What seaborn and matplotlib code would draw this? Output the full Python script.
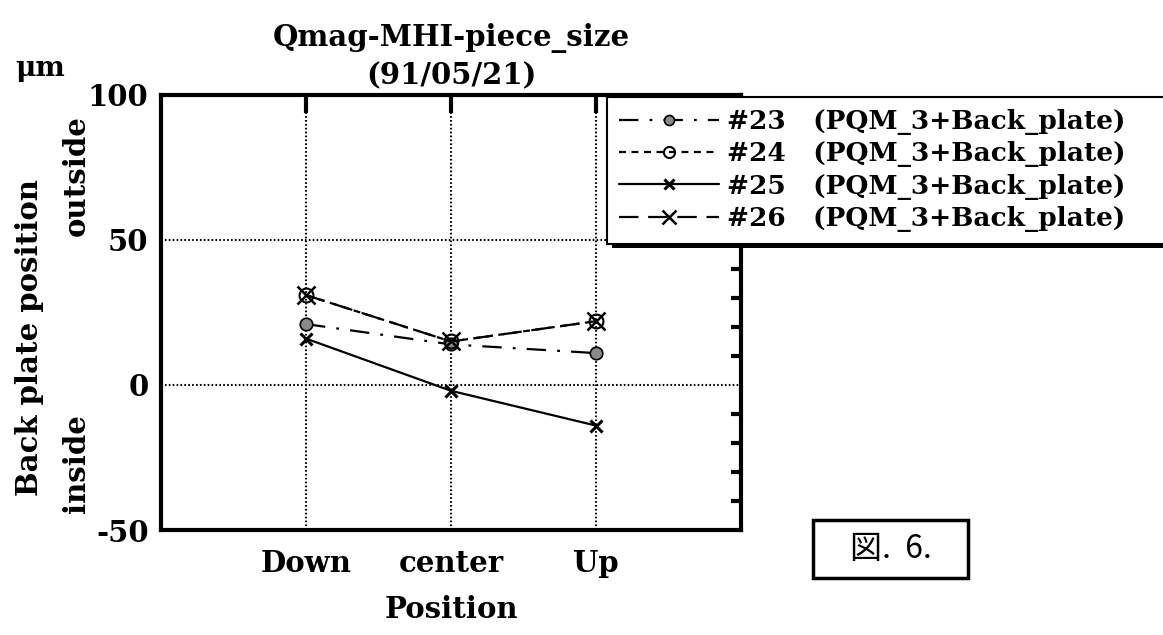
import numpy as np
import pandas as pd
import matplotlib
matplotlib.use("Agg")
import matplotlib.pyplot as plt
import seaborn as sns
from matplotlib.ticker import MultipleLocator
from matplotlib.patches import Rectangle

# ---- data ----
positions = ["Down", "center", "Up"]
x_pos = [1, 2, 3]
s23 = [21, 14, 11]
s24 = [31, 15, 22]
s25 = [16, -2, -14]
s26 = [31, 15, 22]
labels = ["#23   (PQM_3+Back_plate)", "#24   (PQM_3+Back_plate)",
          "#25   (PQM_3+Back_plate)", "#26   (PQM_3+Back_plate)"]
y_ticks = [-50, 0, 50, 100]

sns.set_theme(style="white")
plt.rcParams["font.family"] = ["DejaVu Serif"]
plt.rcParams["font.weight"] = "bold"
plt.rcParams["axes.unicode_minus"] = False
plt.rcParams["lines.scale_dashes"] = False
for k in ["text.color", "axes.labelcolor", "xtick.color", "ytick.color", "axes.edgecolor"]:
    plt.rcParams[k] = "black"

fig = plt.figure(figsize=(11.63, 6.35), dpi=100)
ax = fig.add_axes([161/1163, 1-530/635, (741-161)/1163, (530-95)/635])

styles = [
    dict(linestyle=(0, (14, 8, 2, 8)), marker="o", markersize=9, markerfacecolor="#8a8a8a",
         markeredgecolor="black", markeredgewidth=1.2),
    dict(linestyle=(0, (5, 4)), marker="o", markersize=10, markerfacecolor="none",
         markeredgecolor="black", markeredgewidth=1.5),
    dict(linestyle="-", marker="x", markersize=9, markeredgecolor="black", markeredgewidth=2.2),
    dict(linestyle=(0, (14, 7)), marker="x", markersize=13, markeredgecolor="black",
         markeredgewidth=1.8),
]
series = [s23, s24, s25, s26]
for vals, lab, st in zip(series, labels, styles):
    sns.lineplot(x=x_pos, y=vals, ax=ax, color="black", linewidth=1.6, label=lab, **st)

ax.set_xlim(0, 4)
ax.set_ylim(-50, 100)
ax.set_xticks(x_pos)
ax.set_xticklabels(positions)
ax.set_yticks(y_ticks)
ax.yaxis.set_minor_locator(MultipleLocator(10))
ax.grid(True, which="major", color="black", linestyle=(0, (1.2, 1.6)), linewidth=1.5)
ax.tick_params(axis="both", which="both", direction="in", top=True, right=True,
               colors="black", labelsize=21)
ax.tick_params(axis="x", which="major", length=13, width=3, pad=14)
ax.tick_params(axis="y", which="major", length=0, width=3, pad=9)
ax.tick_params(axis="y", which="minor", length=7, width=3)
for sp in ax.spines.values():
    sp.set_color("black")
    sp.set_linewidth(3)
ax.set_xlabel("Position", fontsize=21, fontweight="bold", labelpad=12, color="black")
ax.set_ylabel("")

ax.set_title("Qmag-MHI-piece_size\n(91/05/21)", fontsize=21, fontweight="bold",
             pad=8, linespacing=1.35, color="black")

# legend
ax.get_legend().remove()
handles, labs = ax.get_legend_handles_labels()
leg = fig.legend(handles, labs, loc="upper left", bbox_to_anchor=(607/1163, 1-97/635, 0.6, 0.0),
                 mode="expand", frameon=True, fancybox=False, framealpha=1,
                 handlelength=3.8, handletextpad=0.3, labelspacing=0.24, borderpad=0.45,
                 borderaxespad=0, markerscale=0.8, prop=dict(weight="bold", size=19))
leg.get_frame().set_edgecolor("black")
leg.get_frame().set_linewidth(1.5)
leg.get_frame().set_facecolor("white")
fig.patches.append(Rectangle((612/1163, 1-248/635), 0.6, 6/635, transform=fig.transFigure,
                             facecolor="black", edgecolor="none", zorder=0))

# extra texts
fig.text(40/1163, 1-68/635, "μm", fontsize=20, fontweight="bold", ha="center", va="center")
fig.text(30/1163, 1-338/635, "Back plate position", rotation=90, fontsize=21,
         fontweight="bold", ha="center", va="center")
fig.text(76/1163, 1-176/635, "outside", rotation=90, fontsize=21,
         fontweight="bold", ha="center", va="center")
fig.text(76/1163, 1-464/635, "inside", rotation=90, fontsize=21,
         fontweight="bold", ha="center", va="center")
fig.patches.append(Rectangle((813/1163, 1-578/635), 155/1163, 58/635, transform=fig.transFigure,
                             facecolor="white", edgecolor="black", linewidth=2.5))
fig.text(891/1163, 1-549/635, "図.  6.", fontsize=23, fontweight="normal",
         family=["Noto Sans CJK JP", "DejaVu Sans"], ha="center", va="center")

fig.savefig("out.png", dpi=100)
